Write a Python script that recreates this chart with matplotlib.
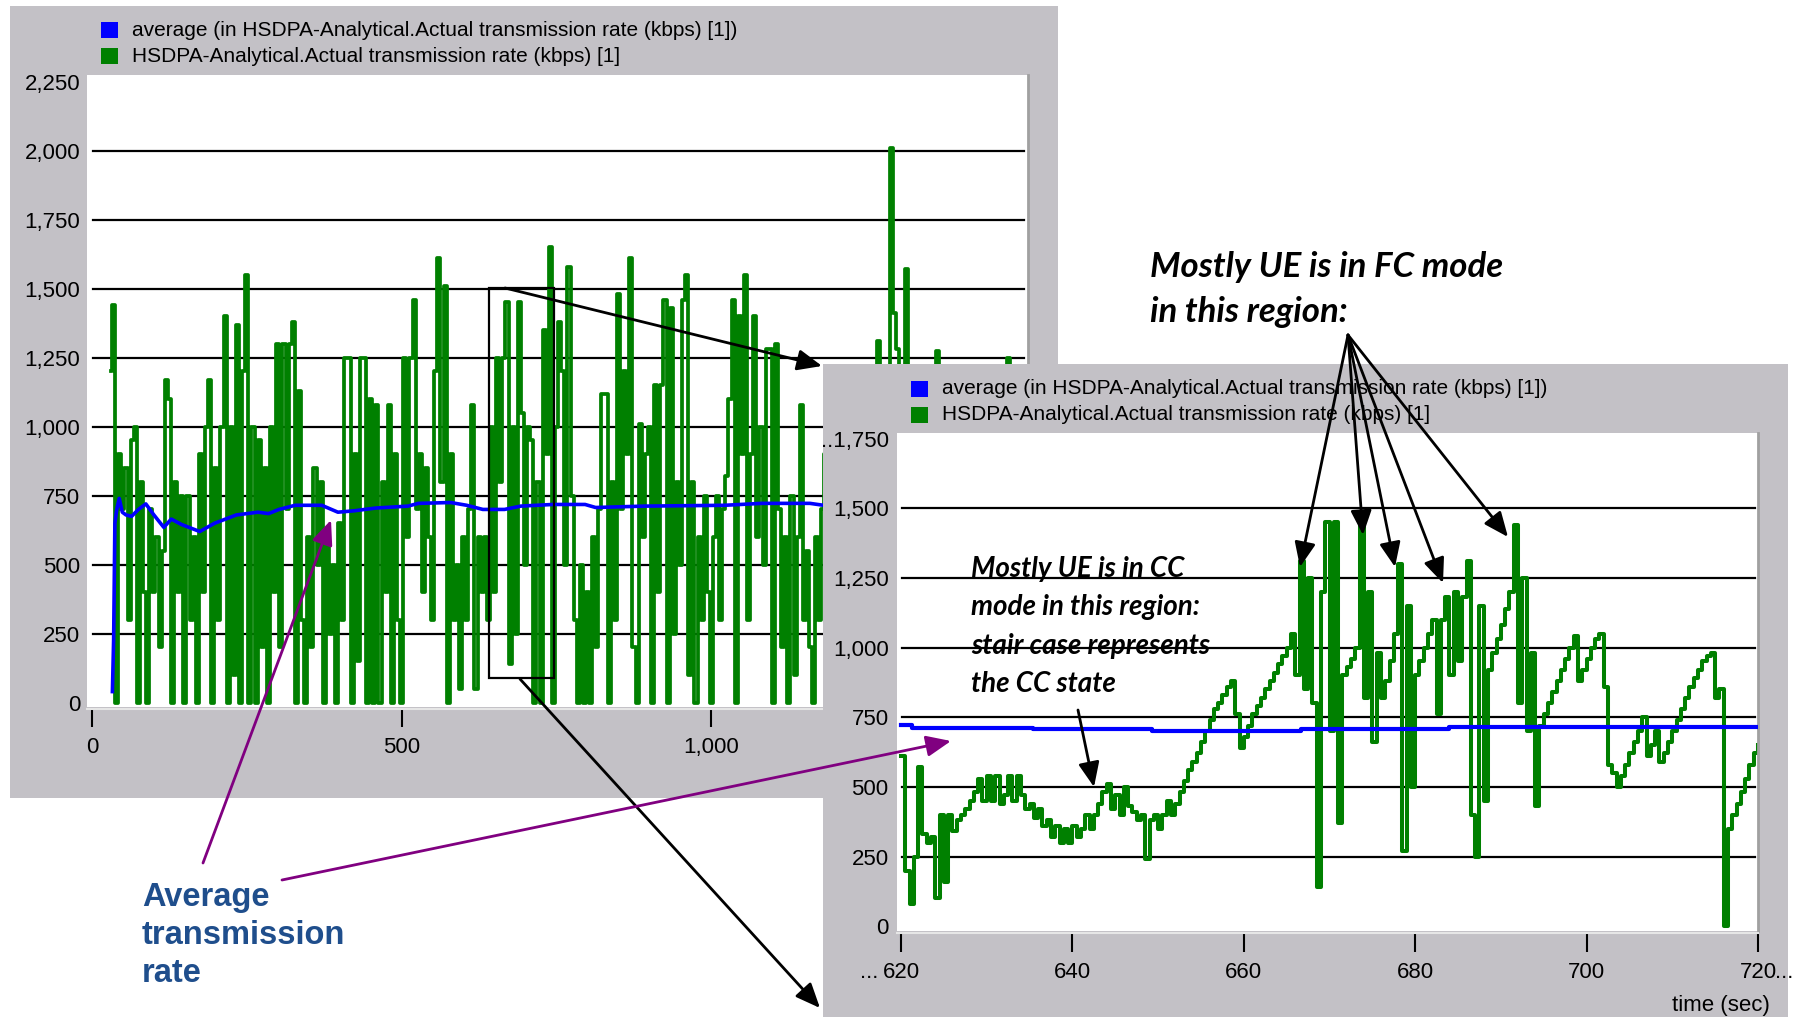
import numpy as np
import matplotlib
matplotlib.use("Agg")
import matplotlib.pyplot as plt
import matplotlib.transforms as mtransforms
from matplotlib.patches import Rectangle, FancyArrowPatch
from matplotlib.ticker import FuncFormatter

W, H = 1797, 1017

# ---- whole run: actual transmission rate (kbps), one sample every 5 s from t = 30 s
run_t0, run_dt = 30, 5
run_rate = [
    1200, 1440, 0, 900, 700, 850, 300, 950, 1000, 0, 800, 400, 0, 700, 400, 600, 200, 550, 1170, 1100,
    0, 800, 400, 750, 0, 750, 300, 600, 0, 900, 400, 1000, 1170, 0, 850, 300, 1000, 1400, 0, 1000,
    100, 1370, 0, 1200, 1550, 0, 1000, 0, 950, 200, 850, 0, 1000, 400, 1300, 200, 1300, 700, 1300, 1380,
    0, 1130, 300, 0, 600, 200, 850, 500, 800, 0, 600, 250, 500, 0, 650, 300, 1250, 1250, 0, 900,
    150, 1250, 1250, 0, 1100, 0, 1080, 0, 800, 400, 1080, 0, 900, 300, 0, 1250, 600, 1250, 1460, 700,
    900, 400, 850, 600, 300, 1200, 1610, 800, 1510, 0, 900, 300, 500, 50, 600, 300, 700, 1080, 50, 600,
    400, 600, 300, 1000, 400, 1250, 800, 1250, 1450, 140, 1000, 250, 1450, 1050, 500, 1000, 950, 0, 800, 0,
    1350, 900, 1650, 0, 1000, 1380, 1200, 500, 1580, 750, 300, 0, 500, 0, 400, 0, 600, 200, 700, 1120,
    1120, 0, 800, 300, 1480, 700, 1200, 900, 1610, 200, 0, 1010, 600, 900, 1000, 0, 1150, 400, 1150, 1460,
    0, 1430, 250, 800, 500, 1460, 1550, 100, 800, 0, 600, 300, 750, 400, 0, 600, 750, 300, 700, 820,
    1100, 1460, 0, 1400, 900, 1550, 300, 900, 1400, 600, 1000, 500, 1280, 1280, 0, 1300, 700, 200, 600, 0,
    750, 100, 600, 1080, 300, 550, 200, 0, 600, 300, 700, 900, 400, 800, 200, 900, 500, 1000, 100, 800,
    300, 900, 500, 1000, 200, 1100, 400, 1200, 1310, 600, 1000, 300, 2010, 1410, 1280, 500, 1100, 1570, 1200, 400,
    1000, 300, 900, 500, 800, 200, 1000, 1275, 700, 400, 900, 600, 1000, 300, 800, 500, 1100, 200, 900, 600,
    1000, 400, 800, 300, 1100, 700, 900, 200, 1000, 600, 1250, 800, 500, 900, 700,
]
run_time = run_t0 + run_dt * np.arange(len(run_rate))

# running average of the whole run
avg_time = [33, 35, 37, 40, 44, 49, 55, 64, 75, 87, 100, 116, 128, 145, 174, 198, 233, 268, 285, 302,
            328, 371, 397, 423, 458, 510, 527, 579, 605, 631, 666, 692, 744, 796, 813, 891, 1021, 1081,
            1159, 1181, 1300, 1500]
avg_rate = [40, 230, 650, 700, 740, 690, 680, 675, 700, 720, 680, 635, 665, 645, 620, 650, 680, 690, 685, 700,
            715, 715, 690, 695, 705, 712, 722, 725, 715, 700, 700, 712, 718, 718, 707, 712, 715, 722,
            722, 715, 722, 720]

# ---- close-up 620..720 s, one sample every 0.5 s
zoom_t0, zoom_dt = 620, 0.5
zoom_rate = [
    610, 200, 80, 250, 570, 330, 300, 320, 100, 400, 160, 400, 340, 380, 400, 420, 450, 480, 530, 450,
    540, 450, 540, 440, 470, 540, 450, 540, 470, 420, 440, 390, 420, 360, 380, 320, 360, 300, 350, 300,
    360, 320, 350, 400, 350, 400, 440, 480, 510, 420, 470, 400, 500, 430, 410, 380, 400, 240, 380, 400,
    350, 400, 450, 400, 440, 480, 520, 560, 590, 620, 660, 700, 740, 780, 800, 830, 860, 880, 760, 640,
    680, 720, 760, 790, 820, 850, 880, 910, 940, 970, 1000, 1050, 900, 1310, 850, 1250, 800, 140, 1200, 1450,
    700, 1450, 370, 900, 930, 960, 1000, 1450, 820, 1200, 660, 980, 820, 880, 950, 1050, 1300, 270, 1150, 500,
    900, 950, 1000, 1050, 1100, 760, 1100, 1180, 900, 1200, 950, 1180, 1310, 400, 250, 1150, 450, 920, 980, 1030,
    1080, 1140, 1200, 1440, 800, 1250, 700, 980, 430, 720, 760, 800, 840, 880, 920, 960, 1000, 1040, 880, 920,
    960, 1000, 1030, 1050, 860, 580, 550, 500, 540, 580, 620, 660, 700, 750, 610, 650, 700, 590, 620, 660,
    700, 740, 780, 820, 860, 890, 920, 950, 970, 980, 820, 850, 0, 350, 400, 440, 480, 530, 580, 620,
    650,
]
zoom_time = zoom_t0 + zoom_dt * np.arange(len(zoom_rate))
zoom_avg_time = [620, 621.3, 635.4, 649.3, 666.7, 684, 720]
zoom_avg_rate = [721, 713, 706, 700, 707, 715, 715]

left_yticks = [0, 250, 500, 750, 1000, 1250, 1500, 1750, 2000, 2250]
left_xticks = [0, 500, 1000]
zoom_yticks = [0, 250, 500, 750, 1000, 1250, 1500, 1750]
zoom_xticks = [620, 640, 660, 680, 700, 720]
box_time = (641, 746)
box_rate = (89, 1501)

legend_labels = ['average (in HSDPA-Analytical.Actual transmission rate (kbps) [1])',
                 'HSDPA-Analytical.Actual transmission rate (kbps) [1]']

GREY = '#c3c1c6'
GREEN = '#008000'
BLUE = '#0000ff'
PURPLE = '#800080'
NAVY = '#1f4e8c'

plt.rcParams['font.family'] = ['Liberation Sans', 'DejaVu Sans']
NOTE_FONT = ['Lato', 'Open Sans', 'DejaVu Sans']

comma = FuncFormatter(lambda v, p: f'{v:,.0f}')


def frac(x, y):
    return x / W, 1 - y / H


def fig_rect(x0, y0, x1, y1):
    return [x0 / W, 1 - y1 / H, (x1 - x0) / W, (y1 - y0) / H]


def panel(x0, y0, x1, y1, z):
    fig.add_artist(Rectangle(frac(x0, y1), (x1 - x0) / W, (y1 - y0) / H,
                             transform=fig.transFigure, facecolor=GREY,
                             edgecolor='none', zorder=z))


def legend(x, y, z):
    for i, (lab, col) in enumerate(zip(legend_labels, [BLUE, GREEN])):
        yy = y + i * 26
        fig.add_artist(Rectangle(frac(x, yy + 8), 17 / W, 16 / H, transform=fig.transFigure,
                                 facecolor=col, edgecolor='none', zorder=z))
        fig.text(*frac(x + 31, yy), lab, fontsize=15, va='center', zorder=z)


def style_axes(ax, yticks, xticks, tick_len):
    ax.set_facecolor('white')
    ax.set_yticks(yticks)
    ax.set_xticks(xticks)
    ax.yaxis.set_major_formatter(comma)
    ax.xaxis.set_major_formatter(comma)
    ax.tick_params(axis='y', length=0, pad=5, labelsize=16)
    ax.tick_params(axis='x', length=tick_len, width=1.5, direction='out', pad=7, labelsize=16)
    for s in ['top', 'left']:
        ax.spines[s].set_visible(False)
    ax.spines['right'].set_color('#a0a0a0')
    ax.spines['right'].set_linewidth(2)
    ax.spines['bottom'].set_position(('outward', 2))
    ax.spines['bottom'].set_color('#e6e6e6')
    ax.spines['bottom'].set_linewidth(1.5)
    for v in yticks[1:-1]:
        ax.axhline(v, xmin=0.006, xmax=0.996, color='black', lw=1.6, zorder=1)


def arrow(p0, p1, color='black', lw=2.0):
    fig.add_artist(FancyArrowPatch(frac(*p0), frac(*p1), transform=fig.transFigure,
                                   arrowstyle='-|>,head_length=0.75,head_width=0.32',
                                   mutation_scale=20, color=color, lw=lw,
                                   shrinkA=0, shrinkB=0, zorder=6))


fig = plt.figure(figsize=(W / 100, H / 100), dpi=100)
fig.patch.set_facecolor('white')

# ---- full run window
panel(10, 6, 1058, 798, 0)
legend(101, 30, 0.5)
ax = fig.add_axes(fig_rect(87, 75, 1028, 706.5), zorder=1)
style_axes(ax, left_yticks, left_xticks, 13)
ax.step(run_time, run_rate, where='mid', color=GREEN, lw=2.7, zorder=2)
ax.plot(avg_time, avg_rate, color=BLUE, lw=2.6, zorder=3)
ax.add_patch(Rectangle((box_time[0], box_rate[0]), box_time[1] - box_time[0],
                       box_rate[1] - box_rate[0], facecolor='none', edgecolor='black',
                       lw=1.6, zorder=4))
ax.set_xlim(-8, 1511)
ax.set_ylim(-14, 2274)

# ---- close-up window
panel(823, 364, 1788, H, 2)
legend(911, 389, 2.5)
ax2 = fig.add_axes(fig_rect(897, 432.7, 1758, 930.7), zorder=3)
style_axes(ax2, zoom_yticks, zoom_xticks, 14)
ax2.yaxis.set_major_formatter(FuncFormatter(
    lambda v, p: ('..' if v == zoom_yticks[-1] else '') + f'{v:,.0f}'))
ax2.tick_params(axis='y', pad=6)
ax2.set_xticklabels([])
ax2.step(zoom_time, zoom_rate, where='post', color=GREEN, lw=2.9, zorder=2)
ax2.step(zoom_avg_time, zoom_avg_rate, where='post', color=BLUE, lw=3.0, zorder=3)
ax2.set_xlim(619.53, 720.0)
ax2.set_ylim(-16, 1771)

lab_tr = mtransforms.blended_transform_factory(ax2.transData, ax2.transAxes)
lab_y = -0.083
for t in zoom_xticks:
    ax2.text(t, lab_y, f'{t}', transform=lab_tr, ha='center', va='center', fontsize=16, clip_on=False)
ax2.text(zoom_xticks[0], lab_y, '... ', ha='right', va='center', fontsize=16, clip_on=False,
         transform=mtransforms.offset_copy(lab_tr, fig=fig, x=-17, units='dots'))
ax2.text(zoom_xticks[-1], lab_y, '...', ha='left', va='center', fontsize=16, clip_on=False,
         transform=mtransforms.offset_copy(lab_tr, fig=fig, x=17, units='dots'))
fig.text(*frac(1770, 1005), 'time (sec)', ha='right', va='center', fontsize=16, zorder=4)

# ---- connectors from the boxed region to the close-up
arrow((505, 288), (822, 366))
arrow((520, 679), (820, 1008))

# ---- average-rate callout
arrow((203, 863), (331, 520), color=PURPLE, lw=2.0)
arrow((282, 880), (951, 741), color=PURPLE, lw=2.0)
for i, line in enumerate(['Average', 'transmission', 'rate']):
    fig.text(*frac(142, 906 + 38 * i), line, color=NAVY, fontsize=23.5,
             fontweight='bold', va='baseline', zorder=7)

# ---- FC / CC notes
for i, line in enumerate(['Mostly UE is in FC mode', 'in this region:']):
    fig.text(*frac(1150, 277 + 45 * i), line, family=NOTE_FONT, fontsize=25,
             fontweight='bold', style='italic', va='baseline', zorder=7)
for tip in [(1300, 567), (1363, 535), (1395, 567), (1443, 583), (1508, 537)]:
    arrow((1348, 335), tip)

for i, line in enumerate(['Mostly UE is in CC', 'mode in this region:',
                          'stair case represents', 'the CC state']):
    fig.text(*frac(971, 577 + 38.5 * i), line, family=NOTE_FONT, fontsize=20,
             fontweight='bold', style='italic', va='baseline', zorder=7)
arrow((1078, 710), (1094, 787))

fig.savefig('out.png', dpi=100, facecolor='white')
